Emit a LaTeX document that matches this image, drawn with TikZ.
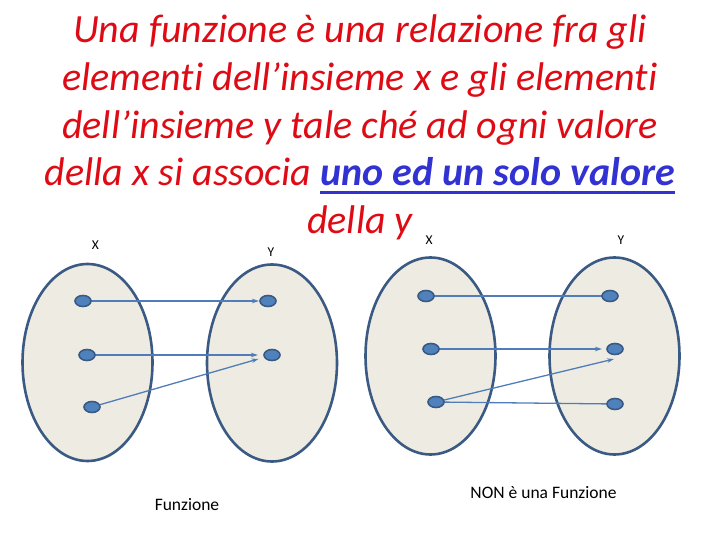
\documentclass[tikz,border=0pt]{standalone}
\usepackage{fontspec}
\setmainfont{Carlito}[Ligatures=NoCommon]
\usetikzlibrary{arrows.meta,shapes.geometric}
\definecolor{titlered}{RGB}{222,10,20}
\definecolor{titleblue}{RGB}{50,50,210}
\definecolor{setfill}{RGB}{238,236,226}
\definecolor{setedge}{RGB}{58,90,132}
\definecolor{dotfill}{RGB}{79,129,189}
\definecolor{arrowcol}{RGB}{80,125,185}
\newcommand\myul[1]{\setbox0\hbox{#1}\rlap{\rule[-7.5pt]{\wd0}{2.6pt}}\box0}
\tikzset{
  setell/.style={ellipse, draw=setedge, fill=setfill, line width=2.6pt, minimum width=130pt, minimum height=197pt, inner sep=0pt},
  elem/.style={ellipse, draw=setedge, fill=dotfill, line width=1.6pt, minimum width=16pt, minimum height=11pt, inner sep=0pt},
  titletext/.style={anchor=base, text=titlered, font=\fontsize{40}{46}\selectfont\itshape, inner sep=0pt},
  lbl/.style={anchor=base, font=\fontsize{13.5}{16}\selectfont, inner sep=0pt},
  captext/.style={anchor=base, font=\fontsize{17.5}{20}\selectfont, inner sep=0pt},
  conn/.style={draw=arrowcol, line width=1.3pt},
  arr/.style={conn, -{Stealth[length=7pt,width=4.5pt]}},
}
\begin{document}
\begin{tikzpicture}[x=1pt,y=-1pt]
\useasboundingbox (0,0) rectangle (720,540);
% title
\node[titletext] (t1) at (360,43) {Una funzione è una relazione fra gli};
\node[titletext] (t2) at (360,90.7) {elementi dell’insieme x e gli elementi};
\node[titletext] (t3) at (360,138.4) {dell’insieme y tale ché ad ogni valore};
\node[titletext] (t4) at (360,186) {della x si associa \textcolor{titleblue}{\myul{\bfseries uno ed un solo valore}}};
\node[titletext] (t5) at (360,233.7) {della y};
% labels
\node[lbl] (lx1) at (95.5,249) {X};
\node[lbl] (ly1) at (271,256) {Y};
\node[lbl] (lx2) at (429,244) {X};
\node[lbl] (ly2) at (621,244) {Y};
\node[captext] (c1) at (187,510) {Funzione};
\node[captext] (c2) at (543.5,498) {NON è una Funzione};
% sets
\node[setell] (A) at (87.5,362.5) {};
\node[setell] (B) at (272,363) {};
\node[setell] (C) at (430.5,356) {};
\node[setell] (D) at (614.5,356) {};
% element positions
\coordinate (a1) at (83,301);
\coordinate (a2) at (87,355);
\coordinate (a3) at (92,407);
\coordinate (b1) at (268,301);
\coordinate (b2) at (272,355);
\coordinate (c1p) at (426,296);
\coordinate (c2p) at (431,349);
\coordinate (c3p) at (436,402);
\coordinate (d1) at (610,296);
\coordinate (d2) at (615,349);
\coordinate (d3) at (615,404);
\coordinate (e3) at (614,359);
% connectors (under dots)
\draw[arr, shorten >=9pt] (a1) -- (b1);
\draw[arr, shorten >=14pt] (a2) -- (b2);
\draw[arr, shorten >=14pt] (a3) -- (b2);
\draw[conn] (c1p) -- (d1);
\draw[arr, shorten >=13pt] (c2p) -- (d2);
\draw[arr] (c3p) -- (e3);
\draw[conn] (c3p) -- (d3);
% dots
\node[elem] (A1) at (a1) {};
\node[elem] (A2) at (a2) {};
\node[elem] (A3) at (a3) {};
\node[elem] (B1) at (b1) {};
\node[elem] (B2) at (b2) {};
\node[elem] (C1) at (c1p) {};
\node[elem] (C2) at (c2p) {};
\node[elem] (C3) at (c3p) {};
\node[elem] (D1) at (d1) {};
\node[elem] (D2) at (d2) {};
\node[elem] (D3) at (d3) {};
\end{tikzpicture}
\end{document}
